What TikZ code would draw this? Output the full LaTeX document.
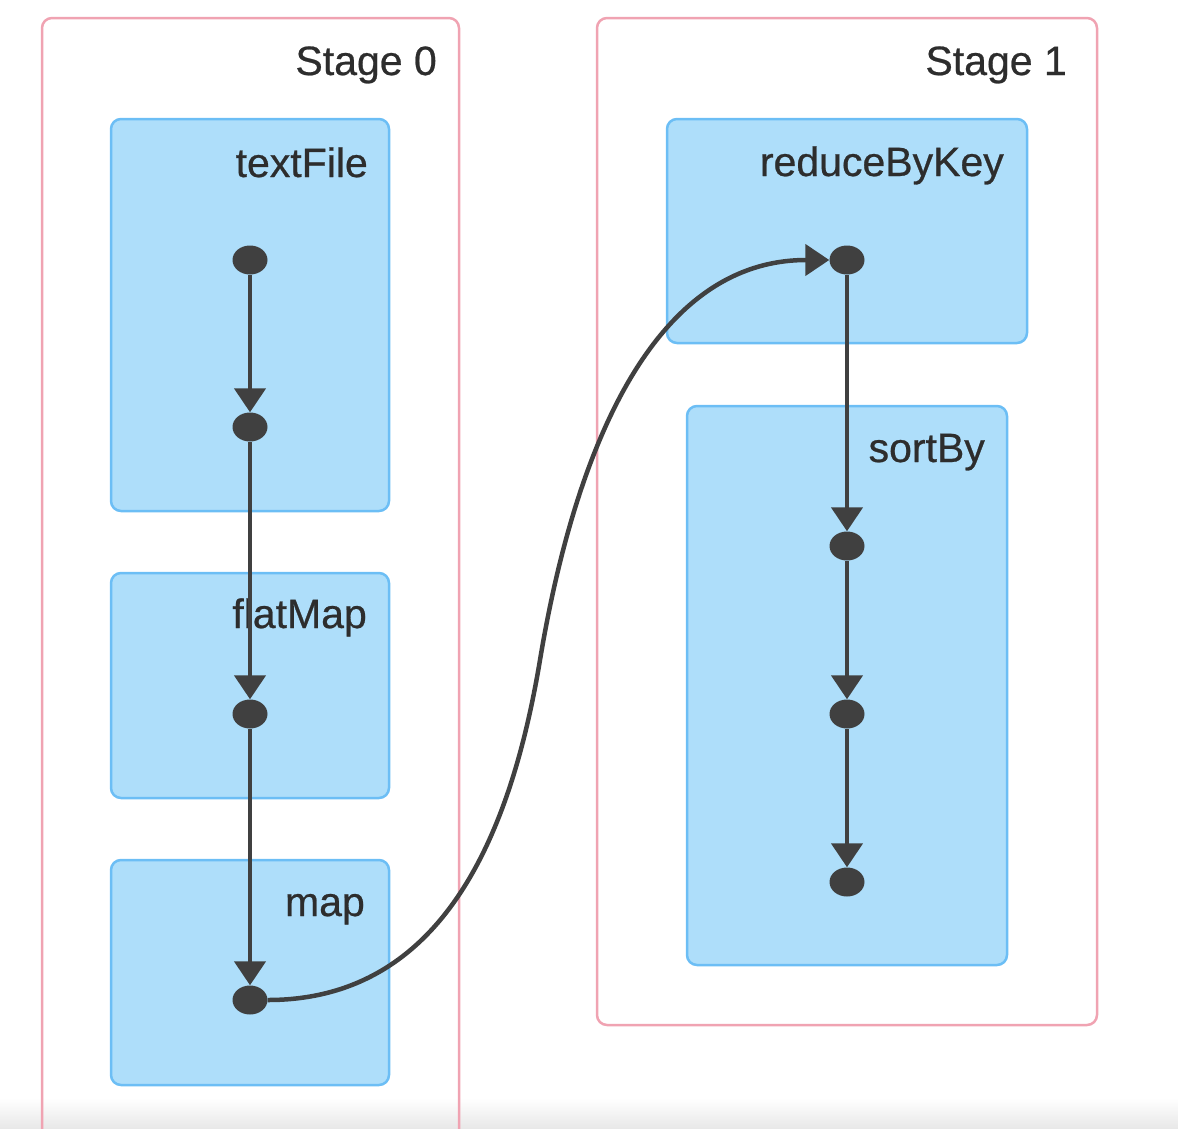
\documentclass[tikz,border=0pt]{standalone}
\usepackage{fontspec}
\setmainfont[FakeBold=0.6]{Liberation Sans}
\usetikzlibrary{arrows.meta,shapes.geometric}
\definecolor{stageline}{RGB}{240,163,178}
\definecolor{opfill}{RGB}{174,222,250}
\definecolor{opline}{RGB}{108,190,245}
\definecolor{edgecol}{RGB}{64,64,64}
\definecolor{labelcol}{RGB}{45,45,45}
\begin{document}
\begin{tikzpicture}[x=1pt,y=-1pt,
  stagebox/.style={draw=stageline,line width=2.5pt,rounded corners=10pt,inner sep=0pt},
  opbox/.style={draw=opline,fill=opfill,line width=2.5pt,rounded corners=10pt,inner sep=0pt},
  rdd/.style={ellipse,fill=edgecol,minimum width=35pt,minimum height=29pt,inner sep=0pt},
  lbl/.style={anchor=base east,font=\fontsize{41}{49}\selectfont,text=labelcol,inner sep=0pt},
  flow/.style={draw=edgecol,line width=4.5pt,-{Triangle[length=24pt,width=31pt]}}]
\useasboundingbox (0,0) rectangle (1178,1128);
\clip (0,0) rectangle (1178,1128);

% faint shadow along the lower edge
\shade[top color=white,bottom color=black!9] (0,1098) rectangle (1178,1128);

% stages
\node[stagebox,minimum width=417pt,minimum height=1142pt] (stage0) at (250.5,589) {};
\node[stagebox,minimum width=500pt,minimum height=1007pt] (stage1) at (847,521.5) {};
\node[lbl] (stage0lbl) at (437,75) {Stage 0};
\node[lbl] (stage1lbl) at (1067,75) {Stage 1};

% operations
\node[opbox,minimum width=278pt,minimum height=392pt] (textFile) at (250,315) {};
\node[opbox,minimum width=278pt,minimum height=225pt] (flatMap) at (250,685.5) {};
\node[opbox,minimum width=278pt,minimum height=225pt] (map) at (250,972.5) {};
\node[opbox,minimum width=360pt,minimum height=224pt] (reduceByKey) at (847,231) {};
\node[opbox,minimum width=320pt,minimum height=559pt] (sortBy) at (847,685.5) {};

\node[lbl] (textFilelbl) at (368,177) {textFile};
\node[lbl] (flatMaplbl) at (367,628) {flatMap};
\node[lbl] (maplbl) at (365,916) {map};
\node[lbl] (reduceByKeylbl) at (1004,176) {reduceByKey};
\node[lbl] (sortBylbl) at (985,462) {sortBy};

% RDDs
\node[rdd] (d1) at (250,260) {};
\node[rdd] (d2) at (250,427) {};
\node[rdd] (d3) at (250,714) {};
\node[rdd] (d4) at (250,1000) {};
\node[rdd] (r1) at (847,260) {};
\node[rdd] (r2) at (847,546) {};
\node[rdd] (r3) at (847,714) {};
\node[rdd] (r4) at (847,882) {};

% dependencies
\draw[flow] (d1) -- (d2);
\draw[flow] (d2) -- (d3);
\draw[flow] (d3) -- (d4);
\coordinate (bend) at (540,660);
\draw[flow] (d4.east) .. controls (440,1000) and (510,840) .. (bend)
  .. controls (565,510) and (630,260) .. (r1.west);
\draw[flow] (r1) -- (r2);
\draw[flow] (r2) -- (r3);
\draw[flow] (r3) -- (r4);
\end{tikzpicture}
\end{document}
